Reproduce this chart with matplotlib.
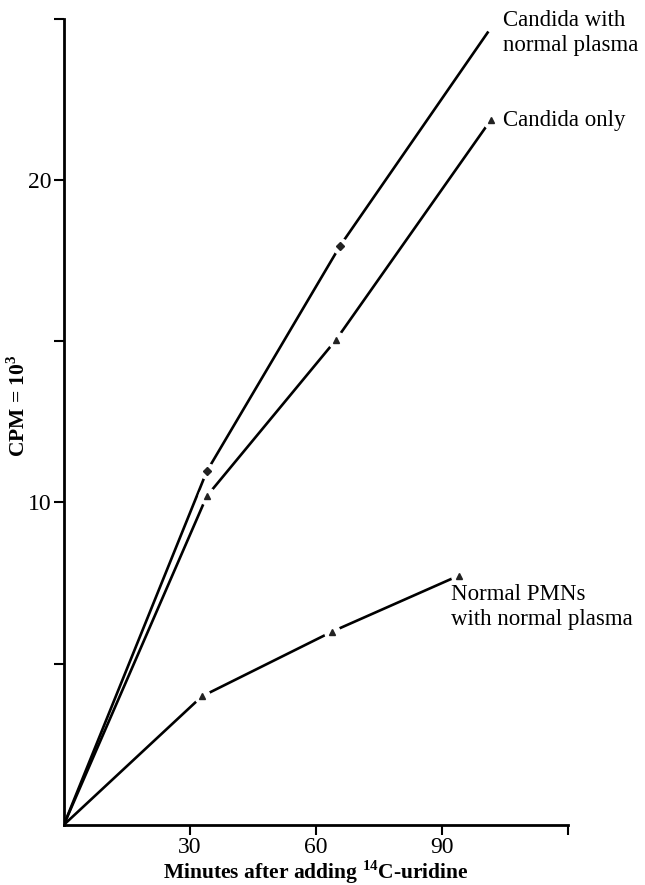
import matplotlib.pyplot as plt

# Values (minutes, CPM x 10^3)
minutes_candida_plasma = [0, 34, 65.7, 101]
cpm_candida_plasma = [0, 10.96, 17.95, 24.6]

minutes_candida_only = [0, 34, 64.7, 101.6]
cpm_candida_only = [0, 10.19, 15.03, 21.86]

minutes_pmn = [0, 32.8, 63.8, 94]
cpm_pmn = [0, 3.98, 5.99, 7.73]

x_ticks = [30, 60, 90, 120]
x_tick_labels = ['30', '60', '90', '']
y_ticks = [5, 10, 15, 20, 25]
y_tick_labels = ['', '10', '', '20', '']

plt.rcParams['font.family'] = ['Liberation Serif', 'DejaVu Serif']
plt.rcParams['mathtext.fontset'] = 'custom'
plt.rcParams['mathtext.rm'] = 'Liberation Serif'
plt.rcParams['mathtext.bf'] = 'Liberation Serif:bold'

fig = plt.figure(figsize=(6.45, 8.85), dpi=100)
ax = fig.add_axes([0.099, 0.068, 0.782, 0.911])

def draw_series(xs, ys, marker, size, n_marked):
    ax.plot(xs, ys, color='black', lw=1.9, zorder=2, solid_capstyle='butt')
    mx, my = xs[1:1 + n_marked], ys[1:1 + n_marked]
    # white halo breaks the line around each point, like the original
    ax.plot(mx, my, ls='none', marker='o', ms=size + 7, mfc='white', mec='white', zorder=3)
    ax.plot(mx, my, ls='none', marker=marker, ms=size, mfc='#222222', mec='#222222', zorder=4)

draw_series(minutes_candida_plasma, cpm_candida_plasma, 'D', 4, 2)
draw_series(minutes_candida_only, cpm_candida_only, '^', 5, 3)
draw_series(minutes_pmn, cpm_pmn, '^', 4, 3)

ax.set_xlim(0, 120)
ax.set_ylim(0, 25)
ax.set_xticks(x_ticks)
ax.set_xticklabels(x_tick_labels, fontsize=17)
ax.set_yticks(y_ticks)
ax.set_yticklabels(y_tick_labels, fontsize=17)
ax.tick_params(direction='out', length=7, width=1.5, pad=2)

for side in ['top', 'right']:
    ax.spines[side].set_visible(False)
for side in ['left', 'bottom']:
    ax.spines[side].set_linewidth(2)

ax.set_xlabel(r'Minutes after adding $^{\mathbf{14}}$C-uridine', fontsize=15.5,
              fontweight='bold', labelpad=0)
ax.set_ylabel(r'CPM = 10$^{\mathbf{3}}$', fontsize=15.5, fontweight='bold')
ax.yaxis.set_label_coords(-0.068, 0.52)

ax.text(104.4, 24.55, 'Candida with\nnormal plasma', fontsize=16.5, va='center',
        ha='left', linespacing=1.25)
ax.text(104.4, 21.85, 'Candida only', fontsize=16.5, va='center', ha='left')
ax.text(92, 6.75, 'Normal PMNs\nwith normal plasma', fontsize=16.5, va='center',
        ha='left', linespacing=1.25)

fig.savefig('out.png', dpi=100)
